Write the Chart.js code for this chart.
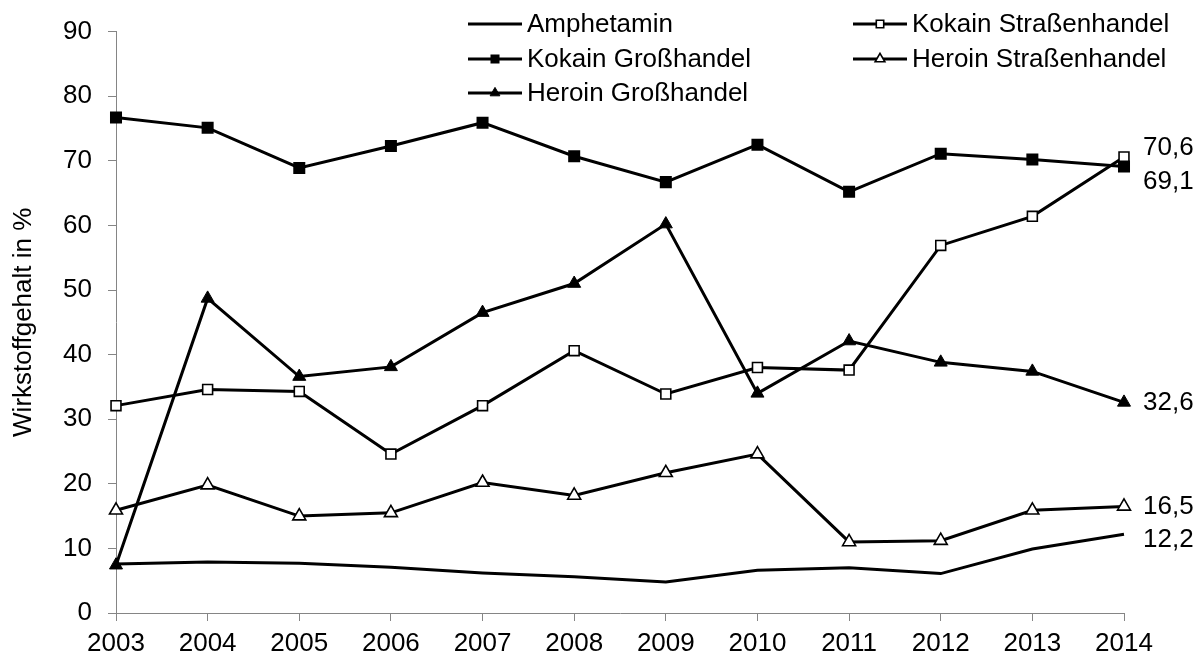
<!DOCTYPE html>
<html lang="de">
<head>
<meta charset="utf-8">
<title>Wirkstoffgehalt 2003–2014</title>
<script src="https://cdn.jsdelivr.net/npm/chart.js@4.4.0/dist/chart.umd.min.js"></script>
<style>
  html, body { margin: 0; padding: 0; background: #ffffff; }
  #wrap { width: 1199px; height: 657px; position: relative; }
</style>
</head>
<body>
<div id="wrap"><canvas id="chart" width="1199" height="657"></canvas></div>
<script>
// Jahre (x-Achse)
const years = ['2003','2004','2005','2006','2007','2008','2009','2010','2011','2012','2013','2014'];

// Wirkstoffgehalt in % je Jahr
const amphetamin           = [7.6, 7.9, 7.7, 7.1, 6.2, 5.6, 4.8, 6.6, 7.0, 6.1, 9.9, 12.2];
const kokainGrosshandel    = [76.7, 75.1, 68.9, 72.3, 75.9, 70.7, 66.7, 72.5, 65.2, 71.1, 70.2, 69.1];
const heroinGrosshandel    = [7.4, 48.7, 36.6, 38.1, 46.5, 51.0, 60.2, 34.0, 42.1, 38.8, 37.4, 32.6];
const kokainStrassenhandel = [32.1, 34.6, 34.3, 24.6, 32.1, 40.6, 33.9, 38.0, 37.6, 56.9, 61.4, 70.6];
const heroinStrassenhandel = [15.9, 19.8, 15.0, 15.5, 20.2, 18.2, 21.7, 24.6, 11.0, 11.2, 15.9, 16.5];

// y-Achse
const yTicks = [0, 10, 20, 30, 40, 50, 60, 70, 80, 90];

const FONT = 'Arial, "Liberation Sans", sans-serif';
const FONT_SIZE = 26;
const AXIS_GRAY = '#858585';

function series(label, data, style) {
  return Object.assign({
    label: label,
    data: data,
    borderColor: '#000000',
    borderWidth: 3,
    tension: 0,
    fill: false,
    pointBorderColor: '#000000',
    pointHoverRadius: 0
  }, style);
}

const datasets = [
  series('Amphetamin', amphetamin, { pointRadius: 0 }),
  series('Kokain Großhandel', kokainGrosshandel, {
    pointStyle: 'rect', pointRadius: 8.5, pointBorderWidth: 0, pointBackgroundColor: '#000000'
  }),
  series('Heroin Großhandel', heroinGrosshandel, {
    pointStyle: 'triangle', pointRadius: 7.5, pointBorderWidth: 1, pointBackgroundColor: '#000000'
  }),
  series('Kokain Straßenhandel', kokainStrassenhandel, {
    pointStyle: 'rect', pointRadius: 7, pointBorderWidth: 1.6, pointBackgroundColor: '#ffffff'
  }),
  series('Heroin Straßenhandel', heroinStrassenhandel, {
    pointStyle: 'triangle', pointRadius: 7.5, pointBorderWidth: 1.6, pointBackgroundColor: '#ffffff'
  })
];

// Legende: zwei Spalten, zeilenweise gefüllt
const legendOrder = [0, 3, 1, 4, 2];
const legendCols = [468, 853];
const legendRows = [24, 59, 93];

// vertikaler Versatz der Endwert-Beschriftungen je Datensatz
const endLabelShift = [6, 15, 0, -9, 0];

function drawMarker(ctx, style, r, x, y) {
  if (style === 'rect') {
    const s = Math.SQRT1_2 * r;
    ctx.rect(x - s, y - s, 2 * s, 2 * s);
  } else if (style === 'triangle') {
    for (let k = 0; k < 3; k++) {
      const a = k * 2 * Math.PI / 3;
      const px = x + Math.sin(a) * r;
      const py = y - Math.cos(a) * r;
      if (k === 0) ctx.moveTo(px, py); else ctx.lineTo(px, py);
    }
    ctx.closePath();
  }
}

const legendPlugin = {
  id: 'twoColumnLegend',
  afterDraw(chart) {
    const ctx = chart.ctx;
    ctx.save();
    ctx.font = FONT_SIZE + 'px ' + FONT;
    ctx.textBaseline = 'middle';
    ctx.textAlign = 'left';
    legendOrder.forEach((dsIndex, i) => {
      const ds = chart.data.datasets[dsIndex];
      const x = legendCols[i % 2];
      const y = legendRows[Math.floor(i / 2)];
      ctx.strokeStyle = '#000000';
      ctx.lineWidth = 3;
      ctx.beginPath();
      ctx.moveTo(x, y);
      ctx.lineTo(x + 54, y);
      ctx.stroke();
      if (ds.pointRadius > 0) {
        ctx.fillStyle = ds.pointBackgroundColor;
        ctx.strokeStyle = '#000000';
        ctx.lineWidth = ds.pointBorderWidth;
        ctx.beginPath();
        drawMarker(ctx, ds.pointStyle, ds.pointRadius * 0.75, x + 27, y);
        ctx.fill();
        if (ds.pointBorderWidth > 0) ctx.stroke();
      }
      ctx.fillStyle = '#000000';
      ctx.fillText(ds.label, x + 59, y + 1);
    });
    ctx.restore();
  }
};

const endLabelPlugin = {
  id: 'endValueLabels',
  afterDatasetsDraw(chart) {
    const ctx = chart.ctx;
    ctx.save();
    ctx.font = FONT_SIZE + 'px ' + FONT;
    ctx.fillStyle = '#000000';
    ctx.textAlign = 'left';
    ctx.textBaseline = 'middle';
    chart.data.datasets.forEach((ds, i) => {
      const meta = chart.getDatasetMeta(i);
      const last = meta.data[meta.data.length - 1];
      const value = ds.data[ds.data.length - 1];
      const text = value.toFixed(1).replace('.', ',');
      ctx.fillText(text, last.x + 19, last.y + endLabelShift[i]);
    });
    ctx.restore();
  }
};

new Chart(document.getElementById('chart'), {
  type: 'line',
  data: { labels: years, datasets: datasets },
  options: {
    responsive: false,
    animation: false,
    events: [],
    layout: { padding: { top: 30, right: 75, left: 0, bottom: 0 } },
    plugins: {
      legend: { display: false },
      tooltip: { enabled: false }
    },
    scales: {
      x: {
        offset: false,
        grid: { display: true, drawOnChartArea: false, drawTicks: true, tickLength: 8, color: AXIS_GRAY, lineWidth: 1 },
        border: { display: true, color: AXIS_GRAY, width: 1 },
        ticks: { color: '#000000', font: { family: FONT, size: FONT_SIZE }, padding: 7, maxRotation: 0, autoSkip: false },
        afterFit(scale) { scale.height = 44; }
      },
      y: {
        min: 0,
        max: 90,
        afterBuildTicks(scale) { scale.ticks = yTicks.map(v => ({ value: v })); },
        grid: { display: true, drawOnChartArea: false, drawTicks: true, tickLength: 8, color: AXIS_GRAY, lineWidth: 1 },
        border: { display: true, color: AXIS_GRAY, width: 1 },
        ticks: { color: '#000000', font: { family: FONT, size: FONT_SIZE }, padding: 16 },
        title: {
          display: true,
          text: 'Wirkstoffgehalt in %',
          color: '#000000',
          font: { family: FONT, size: FONT_SIZE },
          padding: { top: 8, bottom: 0 }
        },
        afterFit(scale) { scale.width = 116; }
      }
    }
  },
  plugins: [endLabelPlugin, legendPlugin]
});
</script>
</body>
</html>
